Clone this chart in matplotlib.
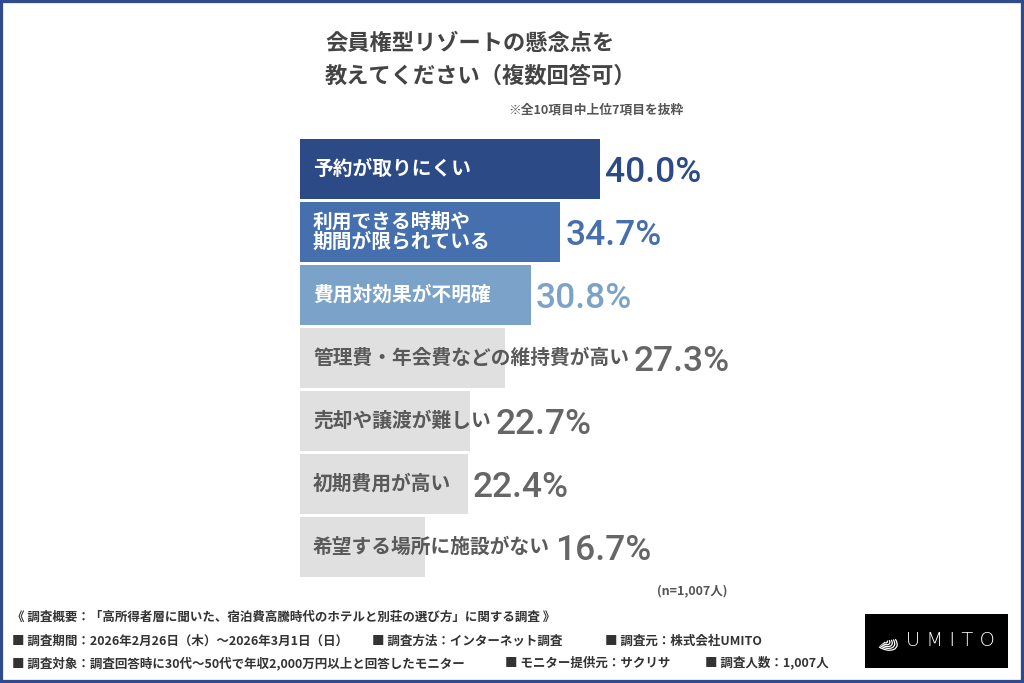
import matplotlib
matplotlib.use("Agg")
import matplotlib.pyplot as plt
from matplotlib import font_manager
from matplotlib.patches import Rectangle, Arc

labels = ["予約が取りにくい", "利用できる時期や\n期間が限られている", "費用対効果が不明確",
          "管理費・年会費などの維持費が高い", "売却や譲渡が難しい", "初期費用が高い",
          "希望する場所に施設がない"]
values = [40.0, 34.7, 30.8, 27.3, 22.7, 22.4, 16.7]

bar_colors = ["#2c4a85", "#4570ad", "#7ba3c9"] + ["#e0e0e0"] * 4
label_colors = ["white"] * 3 + ["#595959"] * 4
value_colors = ["#2c4a85", "#4570ad", "#7ba3c9"] + ["#666666"] * 4

title = "会員権型リゾートの懸念点を\n教えてください（複数回答可）"
subtitle = "※全10項目中上位7項目を抜粋"
n_note = "(n=1,007人)"
footer = [
    [(12, "《 調査概要：「高所得者層に聞いた、宿泊費高騰時代のホテルと別荘の選び方」に関する調査 》")],
    [(12, "■ 調査期間：2026年2月26日（木）～2026年3月1日（日）"),
     (372, "■ 調査方法：インターネット調査"),
     (605, "■ 調査元：株式会社UMITO")],
    [(12, "■ 調査対象：調査回答時に30代～50代で年収2,000万円以上と回答したモニター"),
     (505, "■ モニター提供元：サクリサ"),
     (705, "■ 調査人数：1,007人")],
]

JP = ["Noto Sans CJK JP", "DejaVu Sans"]
plt.rcParams["font.family"] = JP

# percentages: Roboto medium comes closest to the narrow DIN-like face
NUM = font_manager.FontProperties(family="Roboto", weight="medium", size=25.5)

W, H = 1024, 683


def fx(x):
    return x / W


def fy(y):
    return 1 - y / H


fig = plt.figure(figsize=(W / 100, H / 100), dpi=100)
fig.patch.set_facecolor("white")

# bar area: 7.5 px per %, 63 px per row
left, right = 300, 750
top, bottom = 137.5, 578.5
ax = fig.add_axes([fx(left), fy(bottom), (right - left) / W, (bottom - top) / H])
ax.set_xlim(0, 60)
ax.set_ylim(len(values) - 0.5, -0.5)
ax.axis("off")

ypos = list(range(len(values)))
ax.barh(ypos, values, height=0.94, color=bar_colors)

label_texts = []
for i, lab in enumerate(labels):
    t = ax.annotate(lab, xy=(0, i), xytext=(13, 0), textcoords="offset pixels",
                    va="center", ha="left", fontsize=14.2, fontweight="bold",
                    color=label_colors[i], linespacing=1.1)
    label_texts.append(t)

fig.canvas.draw()
renderer = fig.canvas.get_renderer()
for i, v in enumerate(values):
    bar_end = ax.transData.transform((v, i))[0]
    lab_end = label_texts[i].get_window_extent(renderer).x1
    off = max(bar_end, lab_end) + 5 - bar_end
    ax.annotate(f"{v:.1f}%", xy=(v, i), xytext=(off, -13), textcoords="offset pixels",
                va="baseline", ha="left", fontproperties=NUM,
                color=value_colors[i])

fig.text(fx(325), fy(60), title, fontsize=16, fontweight="bold", color="#444444",
         ha="left", va="center", linespacing=1.55)
fig.text(fx(683), fy(110), subtitle, fontsize=9.2, fontweight="bold", color="#555555",
         ha="right", va="center")
fig.text(fx(728), fy(591), n_note, fontsize=9, fontweight="bold", color="#555555",
         ha="right", va="center")

for row, y in zip(footer, [617, 641, 663]):
    for x, s in row:
        fig.text(fx(x), fy(y), s, fontsize=9, fontweight="bold", color="#333333",
                 ha="left", va="center")

# logo
fig.patches.append(Rectangle((fx(865), fy(668)), (1008 - 865) / W, (668 - 614) / H,
                             transform=fig.transFigure, facecolor="black", edgecolor="none"))
for k in range(5):
    fig.patches.append(Arc((fx(885), fy(641)), 0.004 + k * 0.004, 0.006 + k * 0.006,
                           angle=35, theta1=200, theta2=340, transform=fig.transFigure,
                           color="white", lw=0.9))
fig.text(fx(950), fy(641), "U M I T O", fontsize=14, color="white", ha="center",
         va="center", family=["DejaVu Sans"], fontweight="light")

# frame
fig.patches.append(Rectangle((0, 0), 1, 1, transform=fig.transFigure, fill=False,
                             edgecolor="#2f4b8a", lw=4.5))

fig.savefig("out.png", dpi=100, facecolor="white")
